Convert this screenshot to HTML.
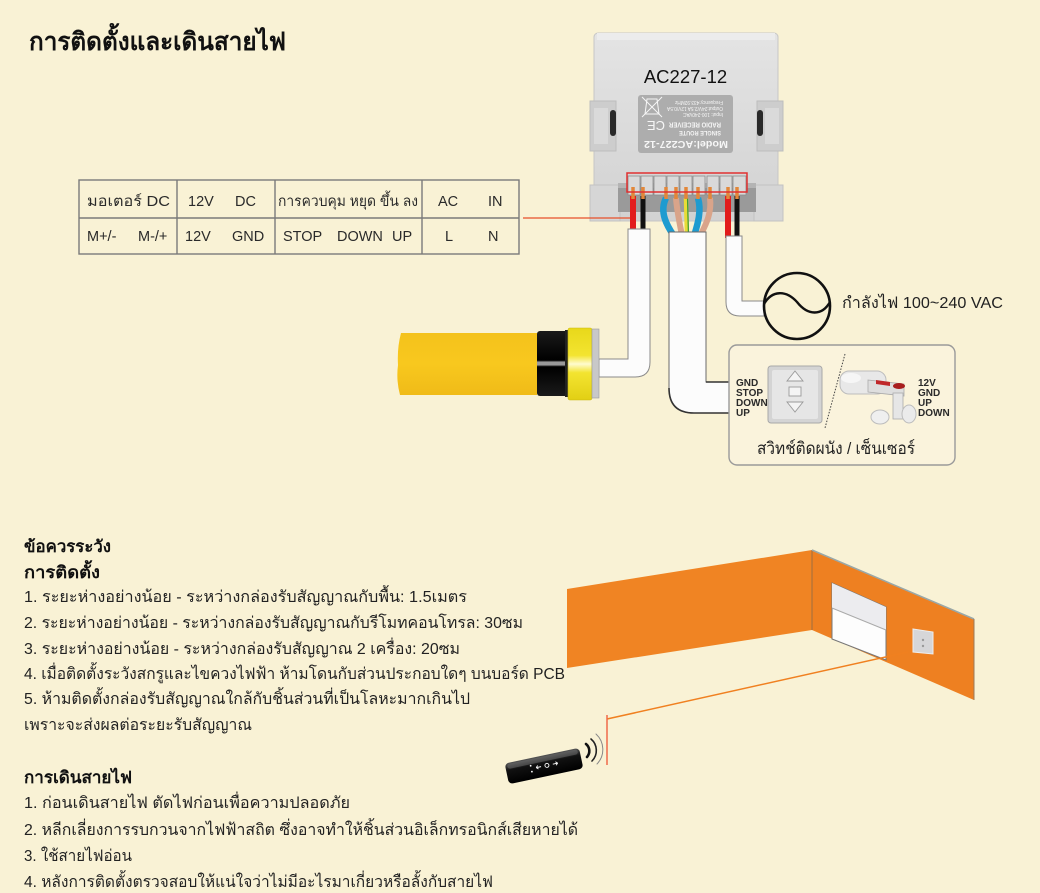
<!DOCTYPE html>
<html>
<head>
<meta charset="utf-8">
<style>
  html,body{margin:0;padding:0;background:#f9f2d5;}
  svg{display:block;}
  text{font-family:"Liberation Sans","DejaVu Sans",sans-serif;}
</style>
</head>
<body>
<svg width="1040" height="893" viewBox="0 0 1040 893" xmlns="http://www.w3.org/2000/svg">
  <defs>
    <linearGradient id="dev" x1="0" y1="0" x2="0" y2="1">
      <stop offset="0" stop-color="#e4e4e4"/>
      <stop offset="1" stop-color="#d2d2d2"/>
    </linearGradient>
    <linearGradient id="yel" x1="0" y1="0" x2="0" y2="1">
      <stop offset="0" stop-color="#f4c21c"/>
      <stop offset="0.5" stop-color="#f8c81e"/>
      <stop offset="1" stop-color="#f0bb18"/>
    </linearGradient>
    <linearGradient id="ring" x1="0" y1="0" x2="0" y2="1">
      <stop offset="0" stop-color="#e8d81a"/>
      <stop offset="0.38" stop-color="#f3e430"/>
      <stop offset="0.5" stop-color="#fffbd0"/>
      <stop offset="0.62" stop-color="#f3e430"/>
      <stop offset="1" stop-color="#e2cf14"/>
    </linearGradient>
    <linearGradient id="blk" x1="0" y1="0" x2="0" y2="1">
      <stop offset="0" stop-color="#1a1a1a"/>
      <stop offset="0.45" stop-color="#000"/>
      <stop offset="0.48" stop-color="#9a9a9a"/>
      <stop offset="0.52" stop-color="#9a9a9a"/>
      <stop offset="0.55" stop-color="#000"/>
      <stop offset="1" stop-color="#1a1a1a"/>
    </linearGradient>
    <linearGradient id="rem" x1="0" y1="0" x2="0" y2="1">
      <stop offset="0" stop-color="#555"/>
      <stop offset="0.35" stop-color="#111"/>
      <stop offset="1" stop-color="#000"/>
    </linearGradient>
  </defs>

  <!-- background -->
  <rect x="0" y="0" width="1040" height="893" fill="#f9f2d5"/>

  <!-- Title -->
  <text x="29" y="50" font-size="25" font-weight="bold" fill="#111" textLength="257" lengthAdjust="spacingAndGlyphs">การติดตั้งและเดินสายไฟ</text>

  <!-- Table -->
  <g stroke="#7a7a7a" stroke-width="1.4" fill="none">
    <rect x="79" y="180" width="440" height="74"/>
    <line x1="79" y1="218" x2="519" y2="218"/>
    <line x1="177" y1="180" x2="177" y2="254"/>
    <line x1="275" y1="180" x2="275" y2="254"/>
    <line x1="422" y1="180" x2="422" y2="254"/>
  </g>
  <g fill="#2a2a2a" font-size="14.5">
    <text x="87" y="206" textLength="83" lengthAdjust="spacingAndGlyphs">มอเตอร์ DC</text>
    <text x="188" y="206">12V</text>
    <text x="235" y="206">DC</text>
    <text x="278" y="206" textLength="140" lengthAdjust="spacingAndGlyphs">การควบคุม หยุด ขึ้น ลง</text>
    <text x="438" y="206">AC</text>
    <text x="488" y="206">IN</text>
    <text x="87" y="241">M+/-</text>
    <text x="138" y="241">M-/+</text>
    <text x="185" y="241">12V</text>
    <text x="232" y="241">GND</text>
    <text x="283" y="241">STOP</text>
    <text x="337" y="241">DOWN</text>
    <text x="392" y="241">UP</text>
    <text x="445" y="241">L</text>
    <text x="488" y="241">N</text>
  </g>

  <!-- Device AC227-12 -->
  <g>
    <rect x="594" y="33" width="184" height="188" rx="4" fill="url(#dev)" stroke="#c6c6c6"/>
    <rect x="597" y="33" width="178" height="7" fill="#ececec"/>
    <!-- side notches -->
    <rect x="590" y="101" width="26" height="50" fill="#cdcdcd" stroke="#bdbdbd"/>
    <rect x="594" y="108" width="14" height="36" fill="#dadada"/>
    <rect x="610" y="110" width="6" height="26" rx="3" fill="#2a2a2a"/>
    <rect x="757" y="101" width="26" height="50" fill="#cdcdcd" stroke="#bdbdbd"/>
    <rect x="765" y="108" width="14" height="36" fill="#dadada"/>
    <rect x="757" y="110" width="6" height="26" rx="3" fill="#2a2a2a"/>
    <!-- bottom wings -->
    <rect x="590" y="185" width="30" height="36" fill="#d6d6d6" stroke="#c2c2c2"/>
    <rect x="754" y="185" width="29" height="36" fill="#d6d6d6" stroke="#c2c2c2"/>
    <text x="685.5" y="83" font-size="18.5" fill="#111" text-anchor="middle">AC227-12</text>
    <!-- label plate (upside down) -->
    <rect x="638" y="95" width="95" height="58" rx="3" fill="#adadad"/>
    <g transform="rotate(180 685.5 124)" fill="#f6f6f6">
      <text x="643" y="107" font-size="10" font-weight="bold" textLength="84" lengthAdjust="spacingAndGlyphs">Model:AC227-12</text>
      <text x="650" y="117" font-size="6.5" font-weight="bold" textLength="42" lengthAdjust="spacingAndGlyphs">SINGLE ROUTE</text>
      <text x="650" y="125.5" font-size="7.5" font-weight="bold" textLength="52" lengthAdjust="spacingAndGlyphs">RADIO RECEIVER</text>
      <text x="706" y="127" font-size="13">CE</text>
      <text x="648" y="135" font-size="5" textLength="40" lengthAdjust="spacingAndGlyphs">Input: 100-240VAC</text>
      <text x="648" y="141" font-size="5" textLength="56" lengthAdjust="spacingAndGlyphs">Output:24V/2.5A 12V/0.5A</text>
      <text x="648" y="147" font-size="5" textLength="48" lengthAdjust="spacingAndGlyphs">Frequency:433.92MHz</text>
      <g stroke="#f6f6f6" stroke-width="1" fill="none">
        <path d="M712 134 L726 134 L724 149 L714 149 Z"/>
        <line x1="709" y1="131" x2="729" y2="151"/>
        <line x1="729" y1="131" x2="709" y2="151"/>
      </g>
    </g>
    <!-- terminal area -->
    <rect x="618" y="183" width="138" height="29" fill="#9a9a9a"/>
    <rect x="618" y="183" width="138" height="5" fill="#b4b4b4"/>
    <g fill="#d9d9d9" stroke="#8c8c8c" stroke-width="0.8">
      <rect x="628" y="176" width="12" height="19"/>
      <rect x="641" y="176" width="12" height="19"/>
      <rect x="654" y="176" width="12" height="19"/>
      <rect x="667" y="176" width="12" height="19"/>
      <rect x="680" y="176" width="12" height="19"/>
      <rect x="693" y="176" width="12" height="19"/>
      <rect x="707" y="176" width="12" height="19"/>
      <rect x="720" y="176" width="12" height="19"/>
      <rect x="733" y="176" width="13" height="19"/>
    </g>
  </g>

  <!-- red connector line from table -->
  <line x1="523" y1="218" x2="632" y2="218" stroke="#e8502a" stroke-width="1.3"/>

  <!-- wires -->
  <g stroke-linecap="butt" fill="none">
    <line x1="633" y1="196" x2="633" y2="232" stroke="#e21c1c" stroke-width="6"/>
    <line x1="643" y1="196" x2="643" y2="232" stroke="#111" stroke-width="5"/>
    <path d="M666 198 C659 212 667 226 674 236" stroke="#1e9bd0" stroke-width="6.5"/>
    <path d="M676 198 C677 212 680 224 682 236" stroke="#d9a48a" stroke-width="6"/>
    <path d="M686 198 L687 236" stroke="#e8dc36" stroke-width="4.5"/>
    <path d="M687.5 198 L688.5 236" stroke="#3a9a3a" stroke-width="1.2"/>
    <path d="M710 198 C712 214 705 226 700 236" stroke="#d9a48a" stroke-width="6"/>
    <path d="M698 198 C702 212 697 226 694 236" stroke="#1e9bd0" stroke-width="6.5"/>
    <line x1="728" y1="196" x2="728" y2="238" stroke="#e21c1c" stroke-width="6"/>
    <line x1="737" y1="196" x2="737" y2="238" stroke="#111" stroke-width="5"/>
  </g>
  <!-- copper tips -->
  <g stroke="#e2873a" stroke-width="3.5">
    <line x1="633" y1="187" x2="633" y2="199"/>
    <line x1="643" y1="187" x2="643" y2="199"/>
    <line x1="666" y1="187" x2="666" y2="199"/>
    <line x1="676" y1="187" x2="676" y2="199"/>
    <line x1="686" y1="187" x2="686" y2="199"/>
    <line x1="698" y1="187" x2="698" y2="199"/>
    <line x1="710" y1="187" x2="710" y2="199"/>
    <line x1="728" y1="187" x2="728" y2="199"/>
    <line x1="737" y1="187" x2="737" y2="199"/>
  </g>
  <!-- red highlight rect -->
  <rect x="627" y="173" width="120" height="19" fill="none" stroke="#e03030" stroke-width="1.5"/>

  <!-- cables -->
  <path d="M628 229 L650 229 L650 362 Q650 377 635 377 L599 377 L599 359 L628 359 Z" fill="#fcfcfc" stroke="#8a8a8a" stroke-width="1"/>
  <path d="M669 232 L706 232 L706 382 L729 382 L729 413 L694 413 Q669 413 669 388 Z" fill="#fcfcfc" stroke="#6a6a6a" stroke-width="1"/>
  <line x1="706" y1="382" x2="729" y2="382" stroke="#333" stroke-width="1.6"/>
  <path d="M669 388 Q669 413 694 413 L729 413" fill="none" stroke="#333" stroke-width="1.6"/>
  <path d="M726 236 L742 236 L742 301 L764 301 L764 316 L740 316 Q726 316 726 302 Z" fill="#fcfcfc" stroke="#8a8a8a" stroke-width="1"/>

  <!-- Motor -->
  <path d="M401 333 L537 333 L537 395 L400 395 Q396 380 398 365 Q397 348 401 333 Z" fill="url(#yel)"/>
  <rect x="537" y="331" width="31" height="65" rx="3" fill="url(#blk)"/>
  <rect x="565" y="330" width="4" height="67" fill="#222"/>
  <rect x="568" y="328" width="24" height="72" rx="2" fill="url(#ring)" stroke="#c9b80f" stroke-width="0.6"/>
  <rect x="592" y="329" width="7" height="69" fill="#c8c8c8" stroke="#9a9a9a" stroke-width="0.6"/>

  <!-- AC power symbol -->
  <circle cx="797" cy="306" r="33" fill="#f9f2d5" stroke="#111" stroke-width="2.6"/>
  <path d="M764 304 C772 290 786 290 797 302 C808 316 822 316 830 302" fill="none" stroke="#111" stroke-width="2.4"/>
  <text x="842" y="308" font-size="16" fill="#222" textLength="161" lengthAdjust="spacingAndGlyphs">กำลังไฟ 100~240 VAC</text>

  <!-- Switch / sensor box -->
  <rect x="729" y="345" width="226" height="120" rx="8" fill="#faf3dc" stroke="#9a9a9a" stroke-width="1.4"/>
  <g font-size="10" font-weight="bold" fill="#2a2a2a">
    <text x="736" y="386">GND</text>
    <text x="736" y="396">STOP</text>
    <text x="736" y="406">DOWN</text>
    <text x="736" y="416">UP</text>
    <text x="918" y="386">12V</text>
    <text x="918" y="396">GND</text>
    <text x="918" y="406">UP</text>
    <text x="918" y="416">DOWN</text>
  </g>
  <rect x="768" y="366" width="54" height="57" rx="3" fill="#d4d4d4" stroke="#a8a8a8"/>
  <rect x="772" y="370" width="46" height="49" rx="2" fill="#e6e6e6"/>
  <g fill="#f4f4f4" stroke="#9a9a9a" stroke-width="0.9">
    <path d="M795 371 L803 381 L787 381 Z"/>
    <rect x="789" y="387" width="12" height="9"/>
    <path d="M787 402 L803 402 L795 412 Z"/>
  </g>
  <line x1="845" y1="354" x2="825" y2="428" stroke="#444" stroke-width="1" stroke-dasharray="1.5,1.5"/>
  <!-- sensor -->
  <g>
    <rect x="840" y="371" width="46" height="23" rx="9" fill="#e8e8e8" stroke="#bdbdbd"/>
    <ellipse cx="851" cy="378" rx="10" ry="5" fill="#f6f6f6"/>
    <path d="M868 380 L904 384 L904 396 L868 392 Z" fill="#dedede" stroke="#aaa" stroke-width="0.8"/>
    <path d="M876 380 L890 382 L890 386 L876 384 Z" fill="#c0282a"/>
    <ellipse cx="899" cy="386" rx="6" ry="3" fill="#a81e1e"/>
    <rect x="893" y="393" width="10" height="26" fill="#e6e6e6" stroke="#aaa" stroke-width="0.8"/>
    <ellipse cx="880" cy="417" rx="9" ry="7" fill="#efefef" stroke="#bdbdbd"/>
    <ellipse cx="909" cy="414" rx="7" ry="9" fill="#ebebeb" stroke="#bdbdbd"/>
  </g>
  <text x="757" y="454" font-size="17" fill="#222" textLength="158" lengthAdjust="spacingAndGlyphs">สวิทช์ติดผนัง / เซ็นเซอร์</text>

  <!-- Bottom texts -->
  <g fill="#222">
    <text x="24" y="552" font-size="16.5" font-weight="bold" fill="#111" textLength="87" lengthAdjust="spacingAndGlyphs">ข้อควรระวัง</text>
    <text x="24" y="578" font-size="16.5" font-weight="bold" fill="#111" textLength="76" lengthAdjust="spacingAndGlyphs">การติดตั้ง</text>
    <text x="24" y="602" font-size="16" textLength="443" lengthAdjust="spacingAndGlyphs">1. ระยะห่างอย่างน้อย - ระหว่างกล่องรับสัญญาณกับพื้น: 1.5เมตร</text>
    <text x="24" y="628" font-size="16" textLength="499" lengthAdjust="spacingAndGlyphs">2. ระยะห่างอย่างน้อย - ระหว่างกล่องรับสัญญาณกับรีโมทคอนโทรล: 30ซม</text>
    <text x="24" y="654" font-size="16" textLength="436" lengthAdjust="spacingAndGlyphs">3. ระยะห่างอย่างน้อย - ระหว่างกล่องรับสัญญาณ 2 เครื่อง: 20ซม</text>
    <text x="24" y="679" font-size="16" textLength="541" lengthAdjust="spacingAndGlyphs">4. เมื่อติดตั้งระวังสกรูและไขควงไฟฟ้า ห้ามโดนกับส่วนประกอบใดๆ บนบอร์ด PCB</text>
    <text x="24" y="704" font-size="16" textLength="446" lengthAdjust="spacingAndGlyphs">5. ห้ามติดตั้งกล่องรับสัญญาณใกล้กับชิ้นส่วนที่เป็นโลหะมากเกินไป</text>
    <text x="24" y="730" font-size="16" textLength="228" lengthAdjust="spacingAndGlyphs">เพราะจะส่งผลต่อระยะรับสัญญาณ</text>
    <text x="24" y="783" font-size="16.5" font-weight="bold" fill="#111" textLength="108" lengthAdjust="spacingAndGlyphs">การเดินสายไฟ</text>
    <text x="24" y="808" font-size="16" textLength="326" lengthAdjust="spacingAndGlyphs">1. ก่อนเดินสายไฟ ตัดไฟก่อนเพื่อความปลอดภัย</text>
    <text x="24" y="835" font-size="16" textLength="554" lengthAdjust="spacingAndGlyphs">2. หลีกเลี่ยงการรบกวนจากไฟฟ้าสถิต ซึ่งอาจทำให้ชิ้นส่วนอิเล็กทรอนิกส์เสียหายได้</text>
    <text x="24" y="861" font-size="16" textLength="108" lengthAdjust="spacingAndGlyphs">3. ใช้สายไฟอ่อน</text>
    <text x="24" y="887" font-size="16" textLength="469" lengthAdjust="spacingAndGlyphs">4. หลังการติดตั้งตรวจสอบให้แน่ใจว่าไม่มีอะไรมาเกี่ยวหรือลั้งกับสายไฟ</text>
  </g>

  <!-- Walls -->
  <polygon points="567,589 812,550 812,630 567,668" fill="#f08423"/>
  <polygon points="812,550 974,619 974,700 812,630" fill="#ee8021"/>
  <line x1="812" y1="550" x2="812" y2="630" stroke="#8a6a4a" stroke-width="0.8"/>
  <line x1="812" y1="550" x2="974" y2="619" stroke="#9aa8a8" stroke-width="1.5"/>
  <line x1="974" y1="619" x2="974" y2="700" stroke="#9a7a5a" stroke-width="1"/>
  <!-- door -->
  <polygon points="832,583 886,607 886,660 832,639" fill="#fdfdfd" stroke="#777" stroke-width="1"/>
  <polygon points="832,583 886,607 886,630 832,608" fill="#ececef"/>
  <line x1="832" y1="608" x2="886" y2="630" stroke="#aaa" stroke-width="1"/>
  <!-- wall switch -->
  <polygon points="913,629 933,632 933,654 913,652" fill="#d6d6d8" stroke="#eee" stroke-width="1"/>
  <circle cx="923" cy="640" r="1.2" fill="#999"/>
  <circle cx="923" cy="646" r="1.2" fill="#999"/>
  <!-- signal line -->
  <line x1="908" y1="652" x2="607" y2="719" stroke="#f08020" stroke-width="1.5"/>
  <line x1="607" y1="715" x2="607" y2="765" stroke="#f06a4a" stroke-width="1.5"/>

  <!-- Remote -->
  <g transform="translate(544 766) rotate(-12)">
    <rect x="-38" y="-10.5" width="76" height="21" rx="4" fill="url(#rem)"/>
    <rect x="-36" y="-9.5" width="72" height="5" rx="2.5" fill="#777" opacity="0.45"/>
    <circle cx="-13" cy="-3" r="0.9" fill="#fff"/>
    <circle cx="-13" cy="3" r="0.9" fill="#fff"/>
    <path d="M-3 0 L-8 0 M-8 0 L-6 -1.8 M-8 0 L-6 1.8" stroke="#fff" stroke-width="0.9" fill="none"/>
    <circle cx="3" cy="0" r="2" fill="none" stroke="#fff" stroke-width="0.9"/>
    <path d="M9 0 L14 0 M14 0 L12 -1.8 M14 0 L12 1.8" stroke="#fff" stroke-width="0.9" fill="none"/>
  </g>
  <!-- signal arcs -->
  <g fill="none" stroke-linecap="round">
    <path d="M586 744 A9 9 0 0 1 587 757" stroke="#111" stroke-width="2.6"/>
    <path d="M591 739 A15 15 0 0 1 592 761" stroke="#222" stroke-width="1.6"/>
    <path d="M596 734 A21 21 0 0 1 597 764" stroke="#888" stroke-width="1"/>
  </g>
</svg>
</body>
</html>
